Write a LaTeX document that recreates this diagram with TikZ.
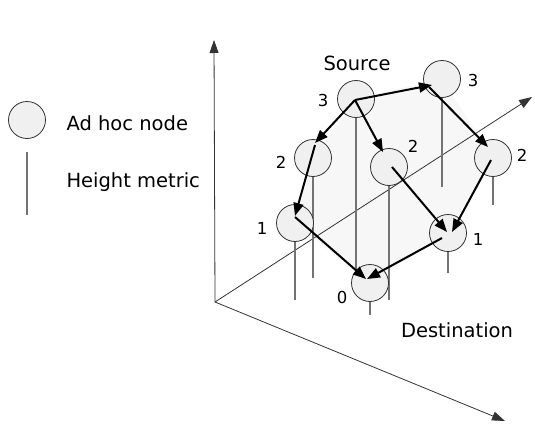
\documentclass[tikz,border=0pt]{standalone}
\usepackage{fontspec}
\setmainfont{DejaVu Sans}
\usetikzlibrary{arrows.meta,calc}
\pgfdeclarelayer{bg}
\pgfsetlayers{bg,main}

\tikzset{
 adhoc/.style={circle,draw=black!80,fill=black!6,line width=0.8pt,minimum size=37pt,inner sep=0pt},
 hgt/.style={draw=black!55,line width=1.1pt},
 hop/.style={-{Triangle[length=13pt,width=10pt]},line width=2pt},
 axis/.style={-{Triangle[length=13pt,width=9pt]},draw=black!80,line width=0.8pt},
 lbl/.style={font=\fontsize{16.5}{19}\selectfont},
 txt/.style={font=\fontsize{19.5}{23}\selectfont}
}

\begin{document}
\begin{tikzpicture}[x=1pt,y=-1pt]
\useasboundingbox (0,0) rectangle (535,423);
% legend
\node[adhoc](leg) at (27,120){};
\node[txt,anchor=west](legn) at (63,123){Ad hoc node};
\coordinate (hta) at (27,152);
\coordinate (htb) at (27,215);
\draw[hgt](hta)--(htb);
\node[txt,anchor=west](legh) at (63,182){Height metric};
% ad hoc nodes
\node[adhoc](src) at (356,99){};
\node[adhoc](t3) at (442,79){};
\node[adhoc](l2) at (313,158){};
\node[adhoc](m2) at (389,167){};
\node[adhoc](r2) at (493,158){};
\node[adhoc](l1) at (295,223){};
\node[adhoc](r1) at (448,233){};
\node[adhoc](d0) at (370,283){};
% heights
\node[lbl](hsrc) at (323,100){3};
\node[lbl](ht3) at (473,80){3};
\node[lbl](hl2) at (281,162){2};
\node[lbl](hm2) at (413,146){2};
\node[lbl](hr2) at (522,155){2};
\node[lbl](hl1) at (262,228){1};
\node[lbl](hr1) at (478,239){1};
\node[lbl](hd0) at (342,297){0};
\node[txt](srct) at (357,63){Source};
\node[txt](dstt) at (457,330){Destination};
\begin{pgfonlayer}{bg}
\fill[black!3](src.center)--(t3.center)--(r2.center)--(r1.center)--(d0.center)--(l1.center)--(l2.center)--cycle;
% axes
\coordinate (o) at (215,302);
\coordinate (ax) at (505,421);
\coordinate (ay) at (532,97);
\coordinate (az) at (214,40);
\draw[axis](o)--(ax);
\draw[axis](o)--(ay);
\draw[axis](o)--(az);
% height lines
\draw[hgt](src.center)--++(0,174);
\draw[hgt](t3.center)--++(0,108);
\draw[hgt](l2.center)--++(0,120);
\draw[hgt](m2.center)--++(0,133);
\draw[hgt](r2.center)--++(0,47);
\draw[hgt](l1.center)--++(0,77);
\draw[hgt](r1.center)--++(0,40);
\draw[hgt](d0.center)--++(0,32);
\end{pgfonlayer}
% routes
\draw[hop]($(src)+(-1,1)$)--($(t3)+(-10,6)$);
\draw[hop]($(src)+(-1,1)$)--($(l2)+(2,-15)$);
\draw[hop]($(src)+(-1,1)$)--($(m2)+(-6,-15)$);
\draw[hop]($(t3)+(-13,8)$)--($(r2)+(-5,-11)$);
\draw[hop]($(l2)+(2,-13)$)--($(l1)+(0,-7)$);
\draw[hop]($(l1)+(0,-6)$)--($(d0)+(-4,-4)$);
\draw[hop]($(m2)+(3,0)$)--($(r1)+(-1,-1)$);
\draw[hop]($(r2)+(-2,2)$)--($(r1)+(4,-1)$);
\draw[hop]($(r1)+(-6,5)$)--($(d0)+(-3,-4)$);
\end{tikzpicture}
\end{document}
